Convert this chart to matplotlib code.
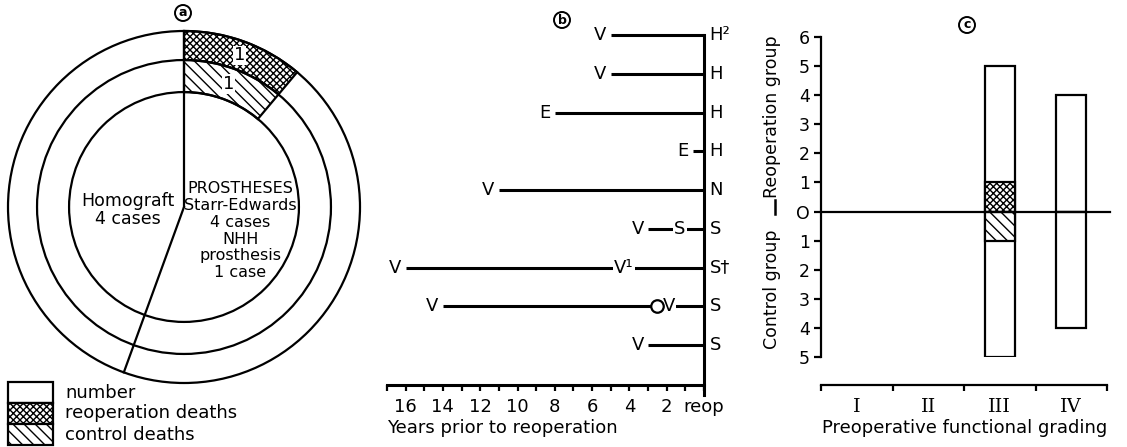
import numpy as np
import matplotlib.pyplot as plt
from matplotlib.patches import Wedge, Circle, Rectangle
from matplotlib.lines import Line2D

# panel a: cases by valve type
pie_groups = ['Homograft\n4 cases',
              'PROSTHESES\nStarr-Edwards\n4 cases\nNHH\nprosthesis\n1 case']
pie_cases = [4, 5]
reop_death_cases = 1
control_death_cases = 1

# panel b: years of earlier operations before reoperation
valve_labels = ['H²', 'H', 'H', 'H', 'N', 'S', 'S†', 'S', 'S']
first_op_years = [5, 5, 8, 0.6, 11, 3, 16, 14, 3]
first_op_labels = ['V', 'V', 'E', 'E', 'V', 'V', 'V', 'V', 'V']
later_op_rows = [5, 6, 7]
later_op_years = [1.3, 4.3, 1.9]
later_op_labels = ['S', 'V¹', 'V']
circle_rows = [7]
circle_years = [2.5]

# panel c: functional grading
grades = ['I', 'II', 'III', 'IV']
reop_group = [0, 0, 5, 4]
control_group = [0, 0, 5, 4]
reop_deaths = [0, 0, 1, 0]
control_deaths = [0, 0, 1, 0]

W, H = 1127, 447
CROSS = 'xxxxx'
DIAG = '\\' * 3
LW = 1.6

plt.rcParams['font.family'] = ['DejaVu Sans']
plt.rcParams['hatch.linewidth'] = 1.0


def px_axes(fig, x0, y0, x1, y1):
    return fig.add_axes([x0 / W, 1 - y1 / H, (x1 - x0) / W, (y1 - y0) / H])


def circled(fig, x, y, letter):
    fig.text(x / W, 1 - y / H, letter, ha='center', va='center', fontsize=9,
             fontweight='bold',
             bbox=dict(boxstyle='circle,pad=0.12', fc='white', ec='black', lw=1.4))


fig = plt.figure(figsize=(W / 100, H / 100), dpi=100)

# ---------------- panel a ----------------
ax = px_axes(fig, 4, 27, 364, 387)
lim = 180 / 176
ax.set_xlim(-lim, lim)
ax.set_ylim(-lim, lim)
ax.axis('off')
r_out, r_mid, r_in = 1.0, 0.835, 0.653
total = sum(pie_cases)

ang_reop = 360 * reop_death_cases / total
ax.add_patch(Wedge((0, 0), r_out, 90 - ang_reop, 90, width=r_out - r_mid,
                   fc='white', ec='black', lw=LW, hatch=CROSS))
ang_ctrl = 360 * control_death_cases / total
ax.add_patch(Wedge((0, 0), r_mid, 90 - ang_ctrl, 90, width=r_mid - r_in,
                   fc='white', ec='black', lw=LW, hatch=DIAG))
for r in [r_out, r_mid, r_in]:
    ax.add_patch(Circle((0, 0), r, fill=False, ec='black', lw=LW))

boundary = 90 - 360 * pie_cases[1] / total
for a in [90, boundary]:
    t = np.deg2rad(a)
    ax.plot([0, r_out * np.cos(t)], [0, r_out * np.sin(t)], color='black', lw=LW)

for ang, r, n in [(90 - ang_reop / 2, (r_out + r_mid) / 2, reop_death_cases),
                  (90 - ang_ctrl / 2, (r_mid + r_in) / 2, control_death_cases)]:
    t = np.deg2rad(ang)
    ax.text(r * np.cos(t), r * np.sin(t), str(n), ha='center', va='center',
            fontsize=13, bbox=dict(fc='white', ec='none', pad=0.5))

ax.text(-0.32, -0.017, pie_groups[0], ha='center', va='center', fontsize=12.5,
        linespacing=1.0)
ax.text(0.32, -0.135, pie_groups[1], ha='center', va='center', fontsize=11.5,
        linespacing=1.15)
circled(fig, 183, 13, 'a')

# legend
lax = px_axes(fig, 8, 382, 53, 445)
lax.set_xlim(0, 1)
lax.set_ylim(3, 0)
lax.axis('off')
for i, (lab, hatch) in enumerate([('number', None),
                                  ('reoperation deaths', CROSS),
                                  ('control deaths', DIAG)]):
    lax.add_patch(Rectangle((0, i), 1, 1, fc='white', ec='black', lw=LW,
                            hatch=hatch, clip_on=False))
    lax.text(1.27, i + 0.5, lab, ha='left', va='center', fontsize=13)

# ---------------- panel b ----------------
bx = px_axes(fig, 380, 25, 730, 385)
ppy = 18.65
bx.set_xlim((704 - 380) / ppy, -(730 - 704) / ppy)
bx.set_ylim(9.032, -0.258)
for s in ['top', 'right', 'left']:
    bx.spines[s].set_visible(False)
bx.spines['bottom'].set_bounds(0, 17)
bx.spines['bottom'].set_linewidth(2.2)
years = np.arange(0, 18)
bx.set_xticks(years)
bx.set_xticklabels(['reop' if y == 0 else (str(y) if y % 2 == 0 else '') for y in years])
bx.tick_params(axis='x', direction='out', length=4, width=1.6, labelsize=13, pad=5)
bx.set_yticks([])
bx.plot([0, 0], [0, 9.28], color='black', lw=2.2, clip_on=False)

for i in range(len(valve_labels)):
    bx.plot([first_op_years[i], 0], [i, i], color='black', lw=2.2,
            solid_capstyle='butt')
    bx.annotate(first_op_labels[i], xy=(first_op_years[i], i), xytext=(-3, 0),
                textcoords='offset points', ha='right', va='center', fontsize=13)
    bx.annotate(valve_labels[i], xy=(0, i), xytext=(4, 0),
                textcoords='offset points', ha='left', va='center', fontsize=13)

for row, yr, lab in zip(later_op_rows, later_op_years, later_op_labels):
    bx.text(yr, row, lab, ha='center', va='center', fontsize=13, zorder=5,
            bbox=dict(fc='white', ec='none', pad=0.8))
for row, yr in zip(circle_rows, circle_years):
    bx.plot(yr, row, 'o', ms=9, mfc='white', mec='black', mew=1.6, zorder=6)

bx.annotate('Years prior to reoperation', xy=(17, 0),
            xycoords=('data', 'axes fraction'), xytext=(0, -31),
            textcoords='offset points', ha='left', va='center', fontsize=13)
circled(fig, 562, 20, 'b')

# ---------------- panel c ----------------
cx = px_axes(fig, 821, 37, 1107, 357)
cx.set_xlim(0, 4)
cx.set_ylim(-5, 6)
for s in ['top', 'right']:
    cx.spines[s].set_visible(False)
cx.spines['left'].set_bounds(-5, 6)
cx.spines['left'].set_linewidth(LW)
cx.spines['bottom'].set_position(('outward', 20.5))
cx.spines['bottom'].set_bounds(0, 4)
cx.spines['bottom'].set_linewidth(LW)

yt = np.arange(-5, 7)
cx.set_yticks(yt)
cx.set_yticklabels(['O' if v == 0 else str(abs(v)) for v in yt])
cx.tick_params(axis='y', length=5, width=LW, labelsize=12.5, pad=3)

cx.set_xticks(np.arange(5))
cx.set_xticklabels([])
cx.set_xticks(np.arange(4) + 0.5, minor=True)
cx.set_xticklabels(grades, minor=True, family='DejaVu Serif', fontsize=14)
cx.tick_params(axis='x', which='major', length=4, width=LW, direction='out')
cx.tick_params(axis='x', which='minor', length=0, pad=9)

xpos = np.arange(len(grades)) + 0.5
bw = 0.42
up = np.array(reop_group)
dn = np.array(control_group)
m = up > 0
cx.bar(xpos[m], up[m], bw, fc='white', ec='black', lw=LW)
m = dn > 0
cx.bar(xpos[m], -dn[m], bw, fc='white', ec='black', lw=LW)
rd = np.array(reop_deaths)
m = rd > 0
cx.bar(xpos[m], rd[m], bw, fc='white', ec='black', lw=LW, hatch=CROSS)
cd = np.array(control_deaths)
m = cd > 0
cx.bar(xpos[m], -cd[m], bw, fc='white', ec='black', lw=LW, hatch=DIAG)
cx.axhline(0, xmin=0, xmax=1.01, color='black', lw=LW, clip_on=False, zorder=5)

fig.text(772 / W, 1 - 117 / H, 'Reoperation group', rotation=90,
         ha='center', va='center', fontsize=12.5)
fig.text(772 / W, 1 - 289 / H, 'Control group', rotation=90,
         ha='center', va='center', fontsize=12.5)
fig.add_artist(Line2D([775 / W, 775 / W], [1 - 200 / H, 1 - 214 / H],
                      color='black', lw=1.8))
fig.text(965 / W, 1 - 428 / H, 'Preoperative functional grading',
         ha='center', va='center', fontsize=13)
circled(fig, 967, 25, 'c')

fig.savefig('out.png', dpi=100)
